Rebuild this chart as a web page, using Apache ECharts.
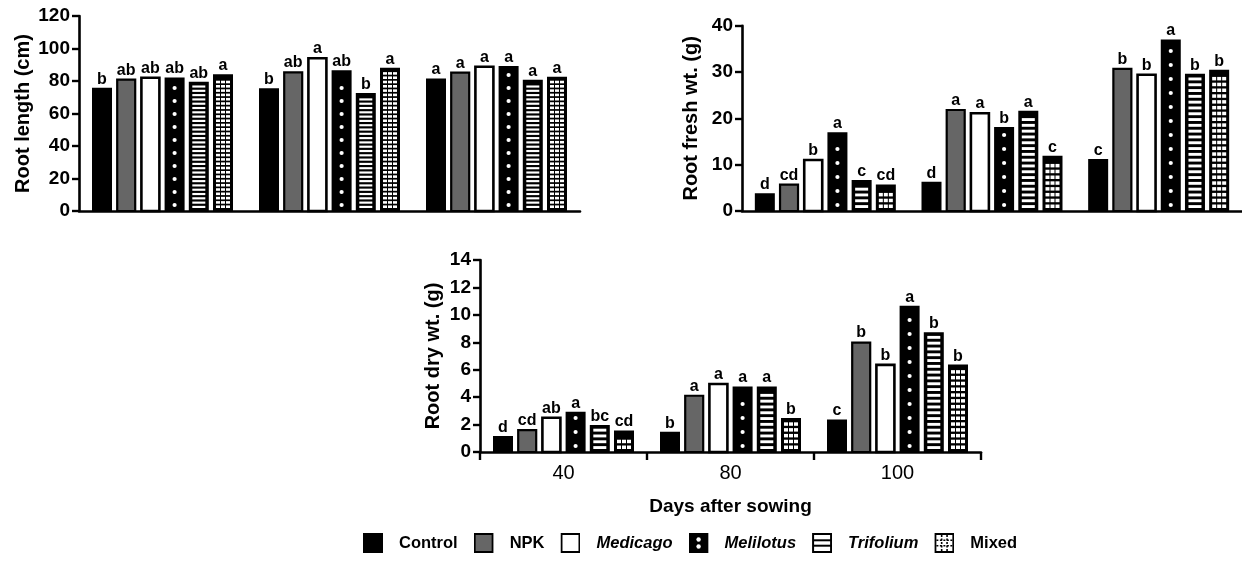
<!DOCTYPE html>
<html>
<head>
<meta charset="utf-8">
<script src="https://cdn.jsdelivr.net/npm/echarts@6/dist/echarts.min.js"></script>
<style>
  html, body { margin: 0; padding: 0; background: #fff; }
  #chart { width: 1242px; height: 562px; }
</style>
</head>
<body>
<div id="chart"></div>
<script>
// ---------------- DATA ----------------
const categories = ['40', '80', '100'];
const treatments = ['Control', 'NPK', 'Medicago', 'Melilotus', 'Trifolium', 'Mixed'];

// Root length (cm): one array per treatment, values at 40, 80, 100 days
const rootLengthControl   = [75.3, 74.9, 81.0];
const rootLengthNPK       = [80.8, 85.3, 85.1];
const rootLengthMedicago  = [82.0, 94.0, 88.8];
const rootLengthMelilotus = [81.6, 86.0, 88.6];
const rootLengthTrifolium = [79.0, 72.0, 80.2];
const rootLengthMixed     = [83.5, 87.6, 82.0];
const rootLengthLetters = [
  ['b', 'b', 'a'], ['ab', 'ab', 'a'], ['ab', 'a', 'a'],
  ['ab', 'ab', 'a'], ['ab', 'b', 'a'], ['a', 'a', 'a']
];

// Root fresh wt. (g)
const freshControl   = [3.6, 6.1, 11.0];
const freshNPK       = [5.7, 21.8, 30.7];
const freshMedicago  = [11.0, 21.1, 29.4];
const freshMelilotus = [16.8, 17.9, 36.8];
const freshTrifolium = [6.5, 21.4, 29.4];
const freshMixed     = [5.5, 11.7, 30.3];
const freshLetters = [
  ['d', 'd', 'c'], ['cd', 'a', 'b'], ['b', 'a', 'b'],
  ['a', 'b', 'a'], ['c', 'a', 'b'], ['cd', 'c', 'b']
];

// Root dry wt. (g)
const dryControl   = [1.1, 1.4, 2.3];
const dryNPK       = [1.6, 4.1, 7.98];
const dryMedicago  = [2.5, 4.96, 6.35];
const dryMelilotus = [2.87, 4.7, 10.6];
const dryTrifolium = [1.9, 4.7, 8.66];
const dryMixed     = [1.5, 2.4, 6.3];
const dryLetters = [
  ['d', 'b', 'c'], ['cd', 'a', 'b'], ['ab', 'a', 'b'],
  ['a', 'a', 'a'], ['bc', 'a', 'b'], ['cd', 'b', 'b']
];

const yTicks1 = { min: 0, max: 120, interval: 20 };
const yTicks2 = { min: 0, max: 40, interval: 10 };
const yTicks3 = { min: 0, max: 14, interval: 2 };

// ---------------- BUILD ----------------
const panels = [
  { values: [rootLengthControl, rootLengthNPK, rootLengthMedicago, rootLengthMelilotus, rootLengthTrifolium, rootLengthMixed],
    letters: rootLengthLetters, stripe: 4.3, dot: 13 },
  { values: [freshControl, freshNPK, freshMedicago, freshMelilotus, freshTrifolium, freshMixed],
    letters: freshLetters, stripe: 5.8, dot: 14 },
  { values: [dryControl, dryNPK, dryMedicago, dryMelilotus, dryTrifolium, dryMixed],
    letters: dryLetters, stripe: 5.8, dot: 14 }
];

const FONT = "'Liberation Sans', Arial, Helvetica, sans-serif";
const BW = 20, GAP = 4.2;
const TOTAL = 6 * BW + 5 * GAP;

function makeRender(t, p) {
  const panel = panels[p];
  return function (params, api) {
    const i = api.value(0), v = api.value(1);
    const base = api.coord([i, 0]);
    const top = api.coord([i, v]);
    const x = base[0] - TOTAL / 2 + t * (BW + GAP);
    const y0 = base[1], y1 = top[1];
    const h = y0 - y1;
    const children = [];
    const rect = (fill, stroke, lw) => ({
      type: 'rect',
      shape: { x: x + 1, y: y1, width: BW - 2, height: h },
      style: { fill: fill, stroke: stroke, lineWidth: lw }
    });
    if (t === 0) {
      children.push(rect('#000', '#000', 2));
    } else if (t === 1) {
      children.push(rect('#666', '#000', 2.2));
    } else if (t === 2) {
      children.push(rect('#fff', '#000', 2.6));
    } else if (t === 3) {
      children.push(rect('#000', '#000', 2));
      for (let yy = y0 - 6; yy > y1 + 4; yy -= panel.dot) {
        children.push({ type: 'circle', shape: { cx: x + BW / 2, cy: yy, r: 2.1 }, style: { fill: '#fff' } });
      }
    } else if (t === 4) {
      children.push(rect('#000', '#000', 2));
      const per = panel.stripe, th = per * 0.5;
      for (let yy = y0 - 3 - th; yy > y1 + 2.5; yy -= per) {
        children.push({ type: 'rect', shape: { x: x + 3.5, y: yy, width: BW - 7, height: th }, style: { fill: '#fff' } });
      }
    } else {
      children.push(rect('#000', '#000', 2));
      const per = panel.stripe, th = per * 0.6;
      const cw = (BW - 6 - 2) / 3;
      for (let yy = y0 - 3 - th; yy > y1 + 2.5; yy -= per) {
        for (let c = 0; c < 3; c++) {
          children.push({ type: 'rect', shape: { x: x + 3 + c * (cw + 1), y: yy, width: cw, height: th }, style: { fill: '#fff' } });
        }
      }
    }
    children.push({
      type: 'text',
      style: {
        text: panel.letters[t][params.dataIndex],
        x: x + BW / 2, y: y1 - 1.5,
        align: 'center', verticalAlign: 'bottom',
        fontSize: 16, fontWeight: 'bold', fontFamily: FONT, fill: '#000'
      }
    });
    return { type: 'group', children: children };
  };
}

const series = [];
panels.forEach((panel, p) => {
  treatments.forEach((name, t) => {
    series.push({
      type: 'custom',
      name: name,
      xAxisIndex: p, yAxisIndex: p,
      encode: { x: 0, y: 1 },
      data: panel.values[t].map((v, i) => [i, v]),
      renderItem: makeRender(t, p),
      itemStyle: { color: '#000' }
    });
  });
});

function svgIcon(inner) {
  const svg = "<svg xmlns='http://www.w3.org/2000/svg' width='20' height='20' viewBox='0 0 20 20'>" + inner + "</svg>";
  return 'image://data:image/svg+xml;charset=utf-8,' + encodeURIComponent(svg);
}
const icons = [
  svgIcon("<rect x='0' y='0' width='20' height='20' fill='#000'/>"),
  svgIcon("<rect x='1' y='1' width='18' height='18' fill='#666' stroke='#000' stroke-width='2'/>"),
  svgIcon("<rect x='1' y='1' width='18' height='18' fill='#fff' stroke='#000' stroke-width='2'/>"),
  svgIcon("<rect x='0' y='0' width='20' height='20' fill='#000'/><circle cx='10' cy='6.5' r='2.2' fill='#fff'/><circle cx='10' cy='13.5' r='2.2' fill='#fff'/>"),
  svgIcon("<rect x='1' y='1' width='18' height='18' fill='#fff' stroke='#000' stroke-width='2'/><line x1='1' y1='7.3' x2='19' y2='7.3' stroke='#000' stroke-width='2'/><line x1='1' y1='12.7' x2='19' y2='12.7' stroke='#000' stroke-width='2'/>"),
  svgIcon("<rect x='1' y='1' width='18' height='18' fill='#fff' stroke='#000' stroke-width='2'/>" +
    "<line x1='7.3' y1='2' x2='7.3' y2='18' stroke='#000' stroke-width='1.6' stroke-dasharray='2 1.5'/>" +
    "<line x1='12.7' y1='2' x2='12.7' y2='18' stroke='#000' stroke-width='1.6' stroke-dasharray='2 1.5'/>" +
    "<line x1='2' y1='7.3' x2='18' y2='7.3' stroke='#000' stroke-width='1.6' stroke-dasharray='2 1.5'/>" +
    "<line x1='2' y1='12.7' x2='18' y2='12.7' stroke='#000' stroke-width='1.6' stroke-dasharray='2 1.5'/>")
];
const italic = { Medicago: true, Melilotus: true, Trifolium: true };

const axisLine = { show: true, lineStyle: { color: '#000', width: 2.6 } };
const yLabel = { color: '#000', fontSize: 19, fontWeight: 'bold', fontFamily: FONT, margin: 9 };
const yTick = { show: true, inside: false, length: 7, lineStyle: { color: '#000', width: 2.4 } };
const yName = { color: '#000', fontSize: 20, fontWeight: 'bold', fontFamily: FONT };

const option = {
  animation: false,
  backgroundColor: '#fff',
  grid: [
    { left: 79, top: 16, width: 501, height: 195 },
    { left: 742, top: 25.7, width: 507, height: 185.3 },
    { left: 480, top: 260, width: 501, height: 192 }
  ],
  xAxis: [0, 1, 2].map(p => ({
    type: 'category',
    gridIndex: p,
    data: categories,
    axisLine: axisLine,
    axisTick: p === 2 ? { show: true, length: 8, lineStyle: { color: '#000', width: 2.4 } } : { show: false },
    axisLabel: p === 2 ? { show: true, color: '#000', fontSize: 20, fontFamily: FONT, margin: 11 } : { show: false },
    name: p === 2 ? 'Days after sowing' : '',
    nameLocation: 'middle',
    nameGap: 45,
    nameTextStyle: { color: '#000', fontSize: 19, fontWeight: 'bold', fontFamily: FONT },
    splitLine: { show: false }
  })),
  yAxis: [
    { gridIndex: 0, type: 'value', ...yTicks1, name: 'Root length (cm)', nameGap: 46 },
    { gridIndex: 1, type: 'value', ...yTicks2, name: 'Root fresh wt. (g)', nameGap: 41 },
    { gridIndex: 2, type: 'value', ...yTicks3, name: 'Root dry wt. (g)', nameGap: 37 }
  ].map(a => Object.assign(a, {
    nameLocation: 'middle',
    nameRotate: 90,
    nameTextStyle: yName,
    axisLine: axisLine,
    axisTick: yTick,
    axisLabel: yLabel,
    splitLine: { show: false }
  })),
  legend: {
    left: 363,
    top: 533,
    padding: 0,
    itemWidth: 20,
    itemHeight: 20,
    itemGap: 16,
    selectedMode: false,
    textStyle: { color: '#000', fontSize: 16.5, fontWeight: 'bold', fontFamily: FONT, padding: [0, 0, 0, 11] },
    data: treatments.map((n, t) => ({
      name: n,
      icon: icons[t],
      textStyle: italic[n] ? { fontStyle: 'italic' } : {}
    }))
  },
  series: series
};

const chart = echarts.init(document.getElementById('chart'), null, { renderer: 'canvas' });
chart.setOption(option);
</script>
</body>
</html>
